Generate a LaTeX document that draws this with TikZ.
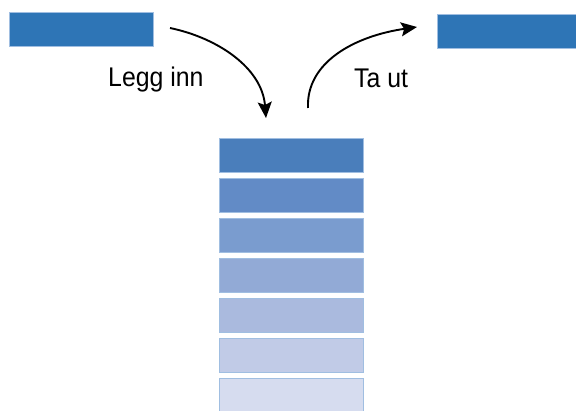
\documentclass[tikz,border=0pt]{standalone}
\usepackage{fontspec}
\setmainfont{Liberation Sans}
\usetikzlibrary{arrows.meta}
\definecolor{topblue}{RGB}{46,117,182}
\definecolor{edgeblue}{RGB}{160,190,225}
\definecolor{s1}{RGB}{74,126,187}
\definecolor{s2}{RGB}{98,139,198}
\definecolor{s3}{RGB}{122,156,207}
\definecolor{s4}{RGB}{146,170,214}
\definecolor{s5}{RGB}{170,186,222}
\definecolor{s6}{RGB}{193,203,231}
\definecolor{s7}{RGB}{214,220,239}
\tikzset{
  item/.style={draw=edgeblue, line width=0.6pt, minimum width=144pt, minimum height=34pt, inner sep=0pt},
  flow/.style={line width=1.9pt, -{Stealth[length=16pt,width=14pt,inset=3pt]}},
  lbl/.style={font=\fontsize{27}{30}\selectfont, inner sep=0pt}
}
\newcommand{\narrowtxt}[1]{\scalebox{0.92}[1]{#1}}
\begin{document}
\begin{tikzpicture}[x=1pt,y=-1pt]
\useasboundingbox (0,0) rectangle (576,411);
\fill[white] (0,0) rectangle (576,411);
% top boxes
\node[item, fill=topblue, anchor=north west] (inbox) at (9,12) {};
\node[item, fill=topblue, anchor=north west] (outbox) at (437,14) {};
% stack
\foreach \i/\c in {1/s1,2/s2,3/s3,4/s4,5/s5,6/s6,7/s7}{
  \node[item, fill=\c, anchor=north west] (r\i) at (219,{138+40*(\i-1)}) {};
}
% arrow endpoints
\coordinate (a1) at (170,28);
\coordinate (b1) at (266,118);
\coordinate (a2) at (308,108);
\coordinate (b2) at (417,27);
\draw[flow] (a1) .. controls (218,38) and (262,68) .. (b1);
\draw[flow] (a2) .. controls (306,62) and (355,36) .. (b2);
% labels
\node[lbl, anchor=base west] (l1) at (108,87) {\narrowtxt{Legg inn}};
\node[lbl, anchor=base west] (l2) at (354,88) {\narrowtxt{Ta ut}};
\end{tikzpicture}
\end{document}
